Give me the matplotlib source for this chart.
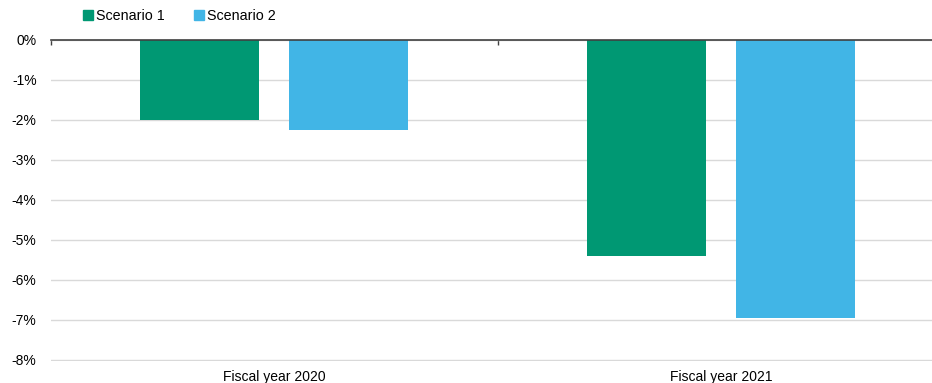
import numpy as np
import matplotlib.pyplot as plt
from matplotlib.patches import Patch
from matplotlib.ticker import FuncFormatter

plt.rcParams['font.family'] = ['Liberation Sans', 'DejaVu Sans']

# data (percent change)
categories = ['Fiscal year 2020', 'Fiscal year 2021']
series_names = ['Scenario 1', 'Scenario 2']
scenario1 = [-2.0, -5.4]
scenario2 = [-2.27, -6.96]
colors = ['#009873', '#41b5e6']

W, H = 932, 383
fig = plt.figure(figsize=(W / 100, H / 100), dpi=100)
# axes runs slightly past the right edge, as in the original
ax = fig.add_axes([50.5 / W, 22.5 / H, 894 / W, 321 / H])

x = np.arange(len(categories))
bw = 0.266
off = 0.1667
ax.bar(x - off, scenario1, bw, color=colors[0], zorder=3)
ax.bar(x + off, scenario2, bw, color=colors[1], zorder=3)

ax.set_xlim(-0.5, len(categories) - 0.5)
ax.set_ylim(-8.025, 0)
ax.set_yticks(np.arange(-8, 1, 1))
ax.yaxis.set_major_formatter(FuncFormatter(lambda v, p: f'{v:.0f}%'))
ax.grid(axis='y', color='#d9d9d9', linewidth=1, zorder=0)
ax.tick_params(axis='y', length=0, pad=10, labelsize=10, labelcolor='black')

# x axis sits on the zero line with small ticks at category boundaries
for s in ['left', 'right', 'bottom']:
    ax.spines[s].set_visible(False)
ax.spines['top'].set_color('#404040')
ax.spines['top'].set_linewidth(1.2)
ax.spines['top'].set_zorder(4)
ax.xaxis.set_ticks_position('top')
ax.set_xticks(np.arange(-0.5, len(categories), 1.0))
ax.set_xticklabels([])
ax.tick_params(axis='x', direction='in', length=3.5, color='#404040', width=1)

for i, c in enumerate(categories):
    ax.text(i, -8.27, c, ha='center', va='top', fontsize=10)

handles = [Patch(color=colors[0]), Patch(color=colors[1])]
fig.legend(handles, series_names, loc='upper left', bbox_to_anchor=(74 / W, 1.0),
           ncol=2, frameon=False, fontsize=10.3, handlelength=0.7, handleheight=0.7,
           handletextpad=0.25, columnspacing=2.0, borderaxespad=0.2)

fig.savefig('out.png', dpi=100)
